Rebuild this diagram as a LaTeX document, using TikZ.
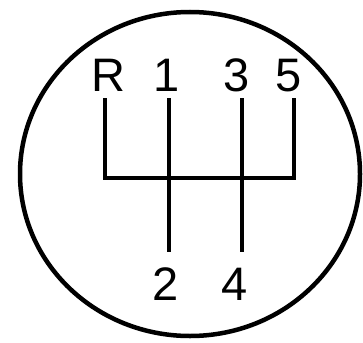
\documentclass[tikz,border=0pt]{standalone}
\usepackage{fontspec}
\setmainfont{Liberation Sans}
\usetikzlibrary{positioning}

\begin{document}
\begin{tikzpicture}[
  x=1pt,y=-1pt,
  knob/.style={line width=4.5pt},
  gate/.style={line width=3.6pt},
  gear/.style={font=\fontsize{47}{47}\selectfont,inner sep=0pt,anchor=base}
]
\useasboundingbox (0,0) rectangle (363,342);
\draw[knob] (190,174) ellipse [x radius=170, y radius=162];
% gear labels
\node[gear] (gR) at (108,92) {R};
\node[gear] (g1) at (167,92) {1};
\node[gear] (g3) at (237,92) {3};
\node[gear] (g5) at (289,92) {5};
\node[gear] (g2) at (166,300) {2};
\node[gear] (g4) at (235,300) {4};
% ends of the gate
\coordinate (rtop) at (105,98);
\coordinate (rbot) at (105,178);
\coordinate (ftop) at (294,98);
\coordinate (fbot) at (294,178);
\coordinate (onetop) at (169,98);
\coordinate (twobot) at (169,252);
\coordinate (threetop) at (242,98);
\coordinate (fourbot) at (242,252);
\draw[gate] (rtop) -- (rbot) -- (fbot) -- (ftop);
\draw[gate] (onetop) -- (twobot);
\draw[gate] (threetop) -- (fourbot);
\end{tikzpicture}
\end{document}
